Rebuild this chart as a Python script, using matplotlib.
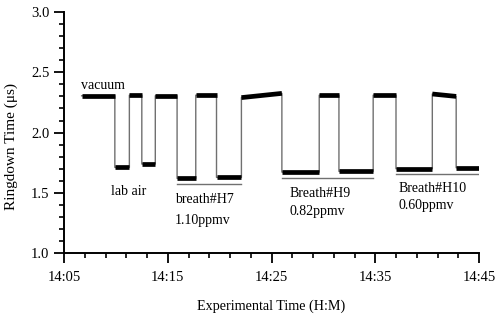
import numpy as np
import matplotlib
matplotlib.use("Agg")
import matplotlib.pyplot as plt
from matplotlib.ticker import MultipleLocator, FuncFormatter

plt.rcParams["font.family"] = ["Liberation Serif", "DejaVu Serif"]

# plateau segments: start/end time (minutes after 14:05) and ringdown level (us)
seg_start = [1.7, 4.9, 6.3, 7.5, 8.8, 10.9, 12.7, 14.7,
             17.1, 21.0, 24.6, 26.5, 29.8, 32.0, 35.5, 37.8]
seg_end = [4.9, 6.3, 7.5, 8.8, 10.9, 12.7, 14.7, 17.1,
           21.0, 24.6, 26.5, 29.8, 32.0, 35.5, 37.8, 40.0]
level_start = [2.305, 1.711, 2.31, 1.739, 2.305, 1.62, 2.31, 1.628,
               2.29, 1.672, 2.31, 1.678, 2.31, 1.70, 2.32, 1.708]
level_end = [2.305, 1.711, 2.31, 1.739, 2.305, 1.62, 2.31, 1.628,
             2.325, 1.672, 2.31, 1.678, 2.31, 1.70, 2.30, 1.708]

# breath group underlines
group_start = [10.9, 21.0, 32.0]
group_end = [17.1, 29.8, 39.9]
group_level = [1.57, 1.62, 1.653]

labels = [("vacuum", 1.6, 2.335),
          ("lab air", 4.5, 1.46),
          ("breath#H7", 10.7, 1.39),
          ("1.10ppmv", 10.7, 1.22),
          ("Breath#H9", 21.7, 1.44),
          ("0.82ppmv", 21.7, 1.29),
          ("Breath#H10", 32.2, 1.48),
          ("0.60ppmv", 32.2, 1.34)]

fig, ax = plt.subplots(figsize=(5.0, 3.16), dpi=100)
fig.subplots_adjust(left=0.128, right=0.958, bottom=0.199, top=0.962)

# thin grey transitions
path_x, path_y = [], []
for s, e, a, b in zip(seg_start, seg_end, level_start, level_end):
    path_x += [s, e]
    path_y += [a, b]
ax.plot(path_x, path_y, color="#707070", lw=1.0, zorder=1)

# thick black plateaus
for s, e, a, b in zip(seg_start, seg_end, level_start, level_end):
    ax.plot([s, e], [a, b], color="black", lw=3.4, solid_capstyle="butt", zorder=2)

for s, e, lv in zip(group_start, group_end, group_level):
    ax.plot([s, e], [lv, lv], color="#707070", lw=1.0, zorder=1)

for txt, x, y in labels:
    ax.text(x, y, txt, fontsize=10, ha="left", va="bottom")

ax.set_xlim(0, 40)
ax.set_ylim(1.0, 3.0)
ax.xaxis.set_major_locator(MultipleLocator(10))
ax.xaxis.set_minor_locator(MultipleLocator(2))
ax.yaxis.set_major_locator(MultipleLocator(0.5))
ax.yaxis.set_minor_locator(MultipleLocator(0.1))
ax.xaxis.set_major_formatter(FuncFormatter(lambda v, p: "%d:%02d" % divmod(14 * 60 + 5 + int(v), 60)))
ax.yaxis.set_major_formatter(FuncFormatter(lambda v, p: "%.1f" % v))

for side in ["top", "right"]:
    ax.spines[side].set_visible(False)
for side in ["left", "bottom"]:
    ax.spines[side].set_linewidth(1.4)
ax.tick_params(which="major", direction="out", length=7, width=1.3, labelsize=10.5)
ax.tick_params(which="minor", direction="out", length=3.5, width=1.2)
ax.tick_params(axis="x", pad=6)

ax.set_xlabel("Experimental Time (H:M)", fontsize=10.2, labelpad=11)
ax.set_ylabel("Ringdown Time (\u03bcs)", fontsize=11)
ax.yaxis.set_label_coords(-0.112, 0.444)

fig.savefig("out.png", dpi=100)
